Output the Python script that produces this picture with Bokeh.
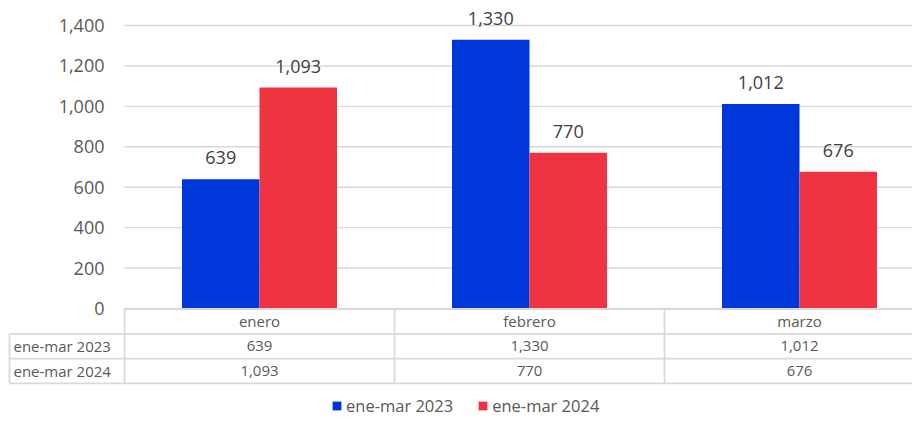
from bokeh.plotting import figure
from bokeh.models import (Range1d, LinearAxis, FixedTicker, ColumnDataSource,
                          Legend, LegendItem, NumeralTickFormatter)
from bokeh.core.properties import value
from bokeh.embed import file_html
from bokeh.resources import INLINE

# ---- data ----
months = ["enero", "febrero", "marzo"]
series_names = ["ene-mar 2023", "ene-mar 2024"]
vals_2023 = [639, 1330, 1012]
vals_2024 = [1093, 770, 676]
y_ticks = [0, 200, 400, 600, 800, 1000, 1200, 1400]

BLUE = "#0037DA"
RED = "#EF3341"
GRID = "#D9D9D9"
TXT = "#595959"
FONT = "Open Sans"

W, H = 912, 416
cat_px = 270.0          # width of one category in pixels
left_px = 124.0         # plot-area left edge in pixels
base_px = 308.0         # y=0 pixel row from top
top_px = 25.0           # y=1400 pixel row from top
k = (base_px - top_px) / 1400.0

x_rng = Range1d(-left_px / cat_px, (W - left_px) / cat_px)
y_rng = Range1d(-(H - base_px) / k, base_px / k)

p = figure(width=W, height=H, x_range=x_rng, y_range=y_rng,
           output_backend="svg", toolbar_location=None,
           x_axis_location=None, y_axis_location=None, min_border=0)
p.outline_line_color = None
p.xgrid.visible = False
p.ygrid.visible = False

# table ranges: rows (0 = top of header row), pixel x
row_px = 24.8
row0_px = 308.5
p.extra_y_ranges = {"row": Range1d(start=(H - row0_px) / row_px, end=-row0_px / row_px)}
p.extra_x_ranges = {"px": Range1d(0, W)}

xc = [i + 0.5 for i in range(len(months))]
bw = 0.287
src = ColumnDataSource(dict(
    x=xc, month=months, a=vals_2023, b=vals_2024,
    la=[f"{v:,}" for v in vals_2023], lb=[f"{v:,}" for v in vals_2024],
    xa=[x - bw / 2 for x in xc], xb=[x + bw / 2 for x in xc],
))

# gridlines (from data-area left to right edge)
p.segment(x0=0, x1=x_rng.end, y0=y_ticks, y1=y_ticks, line_color=GRID, line_width=1.4)

ra = p.vbar(x="xa", top="a", width=bw, bottom=0, source=src, fill_color=BLUE, line_color=None)
rb = p.vbar(x="xb", top="b", width=bw, bottom=0, source=src, fill_color=RED, line_color=None)

# data labels
for xcol, ycol, lcol in (("xa", "a", "la"), ("xb", "b", "lb")):
    p.text(x=xcol, y=ycol, text=lcol, source=src, text_align="center",
           text_baseline="bottom", y_offset=-15, text_font=value(FONT),
           text_font_size="18px", text_color="#404040")

# y axis inside frame
yax = LinearAxis(ticker=FixedTicker(ticks=y_ticks), fixed_location=0,
                 formatter=NumeralTickFormatter(format="0,0"))
yax.axis_line_color = None
yax.major_tick_line_color = None
yax.minor_tick_line_color = None
yax.major_tick_in = 0
yax.major_tick_out = 0
yax.major_label_standoff = 20
yax.major_label_text_font = FONT
yax.major_label_text_font_size = "18px"
yax.major_label_text_color = TXT
p.add_layout(yax, "left")

# ---- data table ----
ncat = len(months)
x_tab_left = (9 - left_px) / cat_px
p.segment(x0=0, x1=x_rng.end, y0=0, y1=0, y_range_name="row", line_color=GRID, line_width=1.8)
p.segment(x0=x_tab_left, x1=x_rng.end, y0=[1, 2, 3], y1=[1, 2, 3],
          y_range_name="row", line_color=GRID, line_width=1.8)
p.segment(x0=list(range(ncat + 1)), x1=list(range(ncat + 1)), y0=0, y1=3,
          y_range_name="row", line_color=GRID, line_width=1.8)
p.segment(x0=x_tab_left, x1=x_tab_left, y0=1, y1=3,
          y_range_name="row", line_color=GRID, line_width=1.8)

tab_font = "15px"
for ycell, col in ((0.5, "month"), (1.5, "la"), (2.5, "lb")):
    p.text(x="x", y=ycell, text=col, source=src, y_range_name="row",
           text_align="center", text_baseline="middle", text_font=value(FONT),
           text_font_size=tab_font, text_color=TXT)
p.text(x=[13, 13], y=[1.5, 2.5], text=series_names, x_range_name="px", y_range_name="row",
       text_align="left", text_baseline="middle", text_font=value(FONT),
       text_font_size=tab_font, text_color=TXT)

# legend
legend = Legend(items=[LegendItem(label=series_names[0], renderers=[ra]),
                       LegendItem(label=series_names[1], renderers=[rb])],
                orientation="horizontal", location=(331, -1),
                glyph_width=11, glyph_height=11, label_standoff=4, spacing=24,
                padding=0, margin=0, border_line_color=None, background_fill_alpha=0,
                label_text_font=FONT, label_text_font_size="16.5px", label_text_color=TXT)
p.add_layout(legend, "center")

open("out.html", "w").write(file_html(p, INLINE))
